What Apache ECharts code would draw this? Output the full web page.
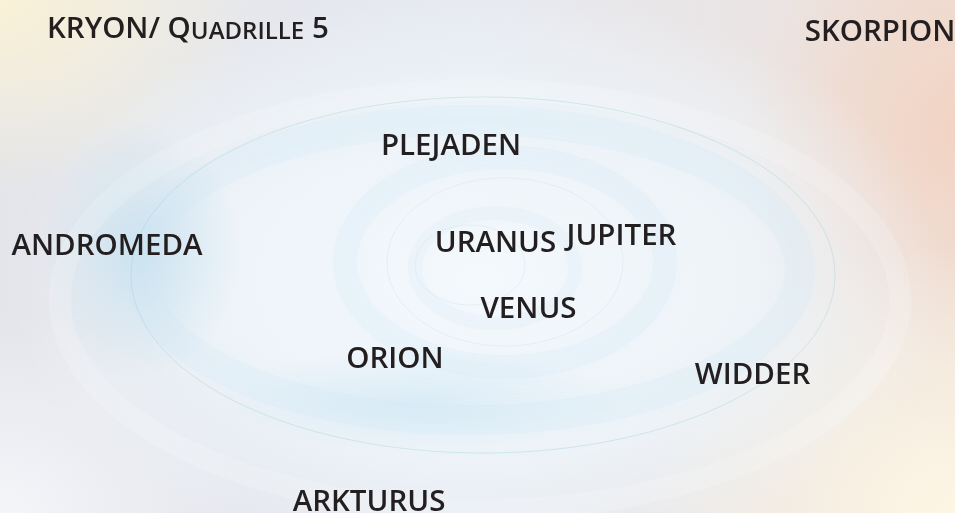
<!DOCTYPE html>
<html>
<head>
<meta charset="utf-8">
<script src="https://cdn.jsdelivr.net/npm/echarts@6/dist/echarts.min.js"></script>
<style>
  html, body { margin: 0; padding: 0; }
  #chart { width: 955px; height: 513px; }
</style>
</head>
<body>
<div id="chart"></div>
<script>
// star names and where they sit on the spiral (centre of each word, picture units)
const names = ['SKORPION', 'PLEJADEN', 'ANDROMEDA', 'URANUS', 'JUPITER', 'VENUS', 'ORION', 'WIDDER', 'ARKTURUS'];
const posX = [880, 451, 107, 495.5, 621.5, 528.5, 395, 752.5, 369];
const posY = [32.5, 147, 246.5, 244, 237, 309.5, 360, 375.5, 502.5];

const titleMain = 'KRYON/ Q';
const titleSmall = 'UADRILLE';
const titleEnd = ' 5';

const chart = echarts.init(document.getElementById('chart'));

const W = 955, H = 513;
const font = '"Open Sans", "Noto Sans", sans-serif';

// soft round blob, stretched into an ellipse
function blob(cx, cy, rx, ry, stops) {
  return {
    type: 'circle', z: -10, silent: true,
    x: cx, y: cy, scaleX: 1, scaleY: ry / rx,
    shape: { cx: 0, cy: 0, r: rx },
    style: {
      fill: new echarts.graphic.RadialGradient(0.5, 0.5, 0.5,
        stops.map(s => ({ offset: s[0], color: s[1] })))
    }
  };
}

function ring(cx, cy, rx, ry, color, width, blur) {
  return {
    type: 'ellipse', z: -9, silent: true,
    shape: { cx: cx, cy: cy, rx: rx, ry: ry },
    style: { fill: null, stroke: color, lineWidth: width, shadowBlur: blur || 0, shadowColor: color }
  };
}

const background = [
  { type: 'rect', z: -11, silent: true, shape: { x: 0, y: 0, width: W, height: H },
    style: { fill: new echarts.graphic.LinearGradient(0, 0, 1, 0, [
      { offset: 0, color: '#e4e5ea' }, { offset: 0.5, color: '#e6e9f0' }, { offset: 1, color: '#eee2dc' }
    ]) } },
  blob(0, 0, 260, 190, [[0, 'rgba(250,242,214,1)'], [1, 'rgba(250,242,214,0)']]),
  blob(955, 130, 210, 250, [[0, 'rgba(242,210,192,0.9)'], [1, 'rgba(242,210,192,0)']]),
  blob(955, 513, 320, 270, [[0, 'rgba(253,246,228,1)'], [1, 'rgba(253,246,228,0)']]),
  blob(0, 513, 250, 200, [[0, 'rgba(244,245,249,1)'], [1, 'rgba(244,245,249,0)']]),
  blob(480, 280, 470, 290, [[0, 'rgba(244,249,253,1)'], [0.6, 'rgba(238,245,250,0.85)'], [1, 'rgba(238,245,250,0)']]),
  blob(140, 250, 100, 130, [[0, 'rgba(192,222,238,0.7)'], [1, 'rgba(192,222,238,0)']]),
  blob(420, 400, 200, 50, [[0, 'rgba(200,228,243,0.5)'], [1, 'rgba(200,228,243,0)']]),
  ring(470, 270, 330, 150, 'rgba(205,230,245,0.22)', 30, 30),
  ring(505, 262, 160, 105, 'rgba(210,232,246,0.22)', 24, 24),
  ring(495, 268, 80, 55, 'rgba(218,236,247,0.25)', 14, 16),
  ring(480, 300, 420, 210, 'rgba(255,255,255,0.16)', 22, 26),
  ring(483, 275, 352, 178, 'rgba(150,205,205,0.35)', 1),
  ring(505, 262, 118, 84, 'rgba(205,222,232,0.35)', 1),
  ring(470, 265, 55, 40, 'rgba(205,222,232,0.35)', 1)
];

const option = {
  animation: false,
  backgroundColor: '#e8ebf0',
  title: {
    left: 47, top: 15, padding: 0,
    text: '{a|' + titleMain + '}{b|' + titleSmall + '}{a|' + titleEnd + '}',
    textStyle: {
      rich: {
        a: { fontFamily: font, fontWeight: 600, fontSize: 29.5, color: '#231f20', verticalAlign: 'bottom' },
        b: { fontFamily: font, fontWeight: 600, fontSize: 24, color: '#231f20', verticalAlign: 'bottom', padding: [0, 0, 1, 0] }
      }
    }
  },
  graphic: background,
  grid: { left: 0, right: 0, top: 0, bottom: 0 },
  xAxis: { type: 'value', min: 0, max: W, show: false },
  yAxis: { type: 'value', min: 0, max: H, inverse: true, show: false },
  series: [{
    type: 'scatter',
    symbolSize: 0,
    silent: true,
    itemStyle: { opacity: 1 },
    data: names.map((n, i) => ({ name: n, value: [posX[i], posY[i]] })),
    label: {
      show: true,
      position: 'inside',
      formatter: '{b}',
      fontFamily: font,
      fontWeight: 600,
      fontSize: 29.5,
      color: '#231f20',
      textBorderWidth: 0
    }
  }]
};

chart.setOption(option);
</script>
</body>
</html>
